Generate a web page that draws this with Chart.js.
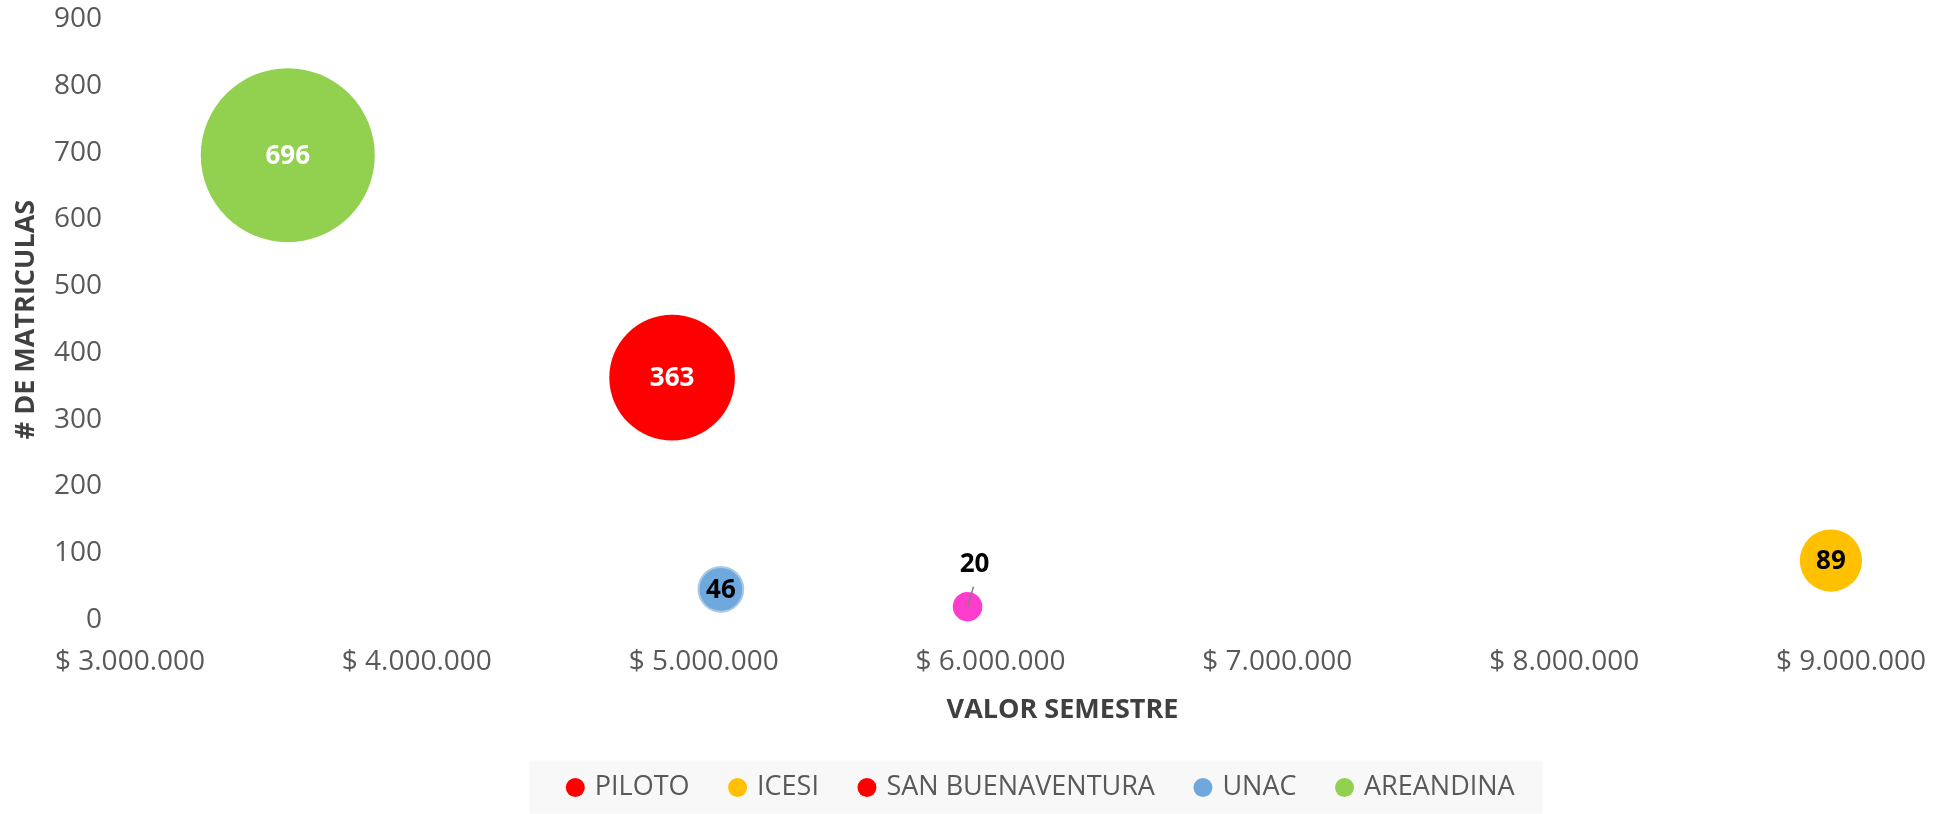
<!DOCTYPE html>
<html>
<head>
<meta charset="utf-8">
<title>Valor semestre vs. matrículas</title>
<script src="https://cdn.jsdelivr.net/npm/chart.js@4.4.1/dist/chart.umd.min.js"></script>
<style>
  html, body { margin: 0; padding: 0; background: #ffffff; }
  #wrap { width: 1944px; height: 814px; position: relative; }
</style>
</head>
<body>
<div id="wrap"><canvas id="bubbleChart"></canvas></div>
<script>
/*--------------------------------------------------------------------------------
----- UNIVERSIDADES: VALOR DEL SEMESTRE Y NUMERO DE MATRICULAS
--------------------------------------------------------------------------------*/

const universidades = ['PILOTO', 'ICESI', 'SAN BUENAVENTURA', 'UNAC', 'AREANDINA'];
const valorSemestre = [5920000, 8930000, 4890000, 5060000, 3550000];
const matriculas    = [20, 89, 363, 46, 696];

const xTicks = [3000000, 4000000, 5000000, 6000000, 7000000, 8000000, 9000000];
const yTicks = [0, 100, 200, 300, 400, 500, 600, 700, 800, 900];

// colores de burbuja, de leyenda y del texto de cada etiqueta
const coloresBurbuja  = ['#ff3dcc', '#ffc000', '#ff0000', '#6fa8dc', '#92d050'];
const coloresLeyenda  = ['#ff0000', '#ffc000', '#ff0000', '#6fa8dc', '#92d050'];
const coloresEtiqueta = ['#000000', '#000000', '#ffffff', '#000000', '#ffffff'];

const FUENTE = '"Open Sans", "DejaVu Sans", sans-serif';
const RADIO_MAX = 87;           // radio (px) de la burbuja mas grande
const CENTRO_LEYENDA = 1042;    // la leyenda va corrida a la derecha
const GRIS_TEXTO = '#595959';
const GRIS_TITULO = '#404040';

// las burbujas grandes no deben empujar el area del grafico hacia adentro
Chart.BubbleController.prototype.getMaxOverflow = function () { return 0; };

function formatoPesos(v) {
  return '$ ' + String(v).replace(/\B(?=(\d{3})+(?!\d))/g, '.');
}

function radio(m) {
  return RADIO_MAX * Math.sqrt(m / Math.max(...matriculas));
}

const datasets = universidades.map((u, i) => ({
  label: u,
  data: [{ x: valorSemestre[i], y: matriculas[i], r: radio(matriculas[i]) }],
  backgroundColor: coloresBurbuja[i],
  borderColor: i === 3 ? '#a9c9ea' : coloresBurbuja[i],
  borderWidth: i === 3 ? 2 : 0,
  hoverBorderWidth: 0,
  clip: i === 0 ? { left: false, top: false, right: false, bottom: 3 } : false
}));

// numero de matriculas sobre cada burbuja; PILOTO lleva la etiqueta arriba con linea guia
const etiquetasBurbuja = {
  id: 'etiquetasBurbuja',
  afterDatasetsDraw(chart) {
    const ctx = chart.ctx;
    ctx.save();
    ctx.font = 'bold 26px ' + FUENTE;
    ctx.textAlign = 'center';
    ctx.textBaseline = 'middle';
    chart.data.datasets.forEach((ds, i) => {
      const el = chart.getDatasetMeta(i).data[0];
      let tx = el.x, ty = el.y + 1;
      if (i === 0) {
        tx = el.x + 7;
        ty = el.y - 42;
        ctx.strokeStyle = '#7f7f7f';
        ctx.lineWidth = 1.5;
        ctx.beginPath();
        ctx.moveTo(el.x + 6, el.y - 20);
        ctx.lineTo(el.x, el.y);
        ctx.stroke();
      }
      ctx.fillStyle = coloresEtiqueta[i];
      ctx.fillText(String(matriculas[i]), tx, ty);
    });
    ctx.restore();
  }
};

// fondo gris de la leyenda y titulo del eje X
const decoracion = {
  id: 'decoracion',
  afterLayout(chart) {
    const lg = chart.legend;
    const shift = CENTRO_LEYENDA - (lg.left + lg.right) / 2;
    lg.left += shift;
    lg.right += shift;
  },
  beforeDraw(chart) {
    const ctx = chart.ctx;
    const lg = chart.legend;
    const pad = lg.options.labels.padding;
    const rowW = lg.lineWidths[0] - pad;
    const start = (lg.left + lg.right - rowW) / 2;
    const cy = lg.top + pad + 27 / 2;
    ctx.save();
    ctx.fillStyle = '#f8f8f8';
    ctx.fillRect(start - 40, cy - 27, rowW + 68, 53);

    const area = chart.chartArea;
    const xs = chart.scales.x;
    ctx.font = 'bold 27px ' + FUENTE;
    ctx.fillStyle = GRIS_TITULO;
    ctx.textAlign = 'center';
    ctx.textBaseline = 'middle';
    ctx.fillText('VALOR SEMESTRE', (area.left + area.right) / 2 + 72, xs.bottom - 22);
    ctx.restore();
  }
};

function dibujar() {
  const ctx = document.getElementById('bubbleChart');

  new Chart(ctx, {
    type: 'bubble',
    data: { datasets: datasets },
    options: {
      responsive: true,
      maintainAspectRatio: false,
      animation: false,
      devicePixelRatio: 1,
      layout: { padding: { top: 19, right: 93, bottom: 3, left: 0 } },
      scales: {
        x: {
          type: 'linear',
          min: xTicks[0],
          max: xTicks[xTicks.length - 1],
          grid: { display: false, drawTicks: true, tickLength: 23 },
          border: { display: false },
          afterBuildTicks(scale) { scale.ticks = xTicks.map(v => ({ value: v })); },
          afterFit(scale) { scale.height = 112; },
          ticks: {
            padding: 2,
            color: GRIS_TEXTO,
            font: { family: FUENTE, size: 28, lineHeight: 1.2 },
            maxRotation: 0,
            autoSkip: false,
            callback: v => formatoPesos(v)
          }
        },
        y: {
          min: yTicks[0],
          max: yTicks[yTicks.length - 1],
          grid: { display: false, drawTicks: true, tickLength: 26 },
          border: { display: false },
          afterBuildTicks(scale) { scale.ticks = yTicks.map(v => ({ value: v })); },
          afterFit(scale) { scale.width = 130; },
          ticks: {
            padding: 2,
            color: GRIS_TEXTO,
            font: { family: FUENTE, size: 28, lineHeight: 1.2 }
          },
          title: {
            display: true,
            text: '# DE MATRICULAS',
            color: GRIS_TITULO,
            font: { family: FUENTE, size: 27, weight: 'bold', lineHeight: 1.2 },
            padding: { top: 10, bottom: 0 }
          }
        }
      },
      plugins: {
        legend: {
          position: 'bottom',
          labels: {
            usePointStyle: true,
            pointStyle: 'circle',
            boxWidth: 12,
            boxHeight: 13.4,
            padding: 42,
            color: GRIS_TEXTO,
            font: { family: FUENTE, size: 27 },
            generateLabels(chart) {
              const items = Chart.defaults.plugins.legend.labels.generateLabels(chart);
              items.forEach((it, i) => {
                it.fillStyle = coloresLeyenda[i];
                it.strokeStyle = coloresLeyenda[i];
                it.lineWidth = 0;
              });
              return items;
            }
          }
        },
        tooltip: { enabled: false }
      }
    },
    plugins: [etiquetasBurbuja, decoracion]
  });
}

Promise.all([
  document.fonts.load('26px "Open Sans"'),
  document.fonts.load('bold 26px "Open Sans"')
]).then(dibujar, dibujar);
</script>
</body>
</html>
